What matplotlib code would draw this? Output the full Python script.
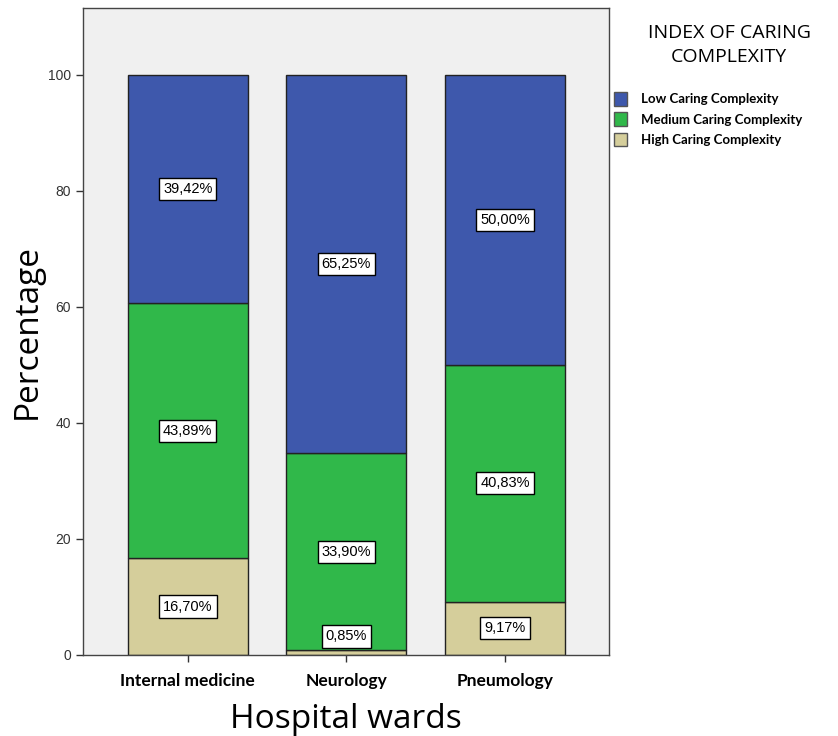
import matplotlib
matplotlib.use('Agg')
import numpy as np
from matplotlib import pyplot as plt
from matplotlib.patches import Patch

wards = ['Internal medicine', 'Neurology', 'Pneumology']
levels = ['Low Caring Complexity', 'Medium Caring Complexity', 'High Caring Complexity']
high_pct = [16.70, 0.85, 9.17]
medium_pct = [43.89, 33.90, 40.83]
low_pct = [39.42, 65.25, 50.00]

colors = {'low': '#3E58AC', 'medium': '#30B84A', 'high': '#D5CE9B'}

fig = plt.figure(figsize=(8.38, 7.36), dpi=100)
ax = fig.add_axes([83 / 838, 81 / 736, 526 / 838, 647 / 736])
ax.set_facecolor('#F0F0F0')

x = np.arange(len(wards))
width = 0.755
bottom = np.zeros(len(wards))
for vals, key in [(high_pct, 'high'), (medium_pct, 'medium'), (low_pct, 'low')]:
    vals = np.array(vals)
    ax.bar(x, vals, width, bottom=bottom, color=colors[key],
           edgecolor='#222222', linewidth=1.0, zorder=2)
    for xi, b, v in zip(x, bottom, vals):
        yc = max(b + v / 2, 3.2)
        ax.text(xi, yc, f'{v:.2f}%'.replace('.', ','), ha='center', va='center',
                fontsize=10.5, family='Liberation Sans', zorder=4,
                bbox=dict(boxstyle='square,pad=0.28', facecolor='white',
                          edgecolor='black', linewidth=1.0))
    bottom += vals

ax.set_xlim(-0.66, 2.655)
ax.set_ylim(0, 111.5)
ax.set_yticks([0, 20, 40, 60, 80, 100])
ax.set_yticklabels(['0', '20', '40', '60', '80', '100'], family='Liberation Sans',
                   fontsize=10, color='#333333')
ax.set_xticks(x)
ax.set_xticklabels(wards, family='Lato', fontweight='bold', fontsize=12.5)
ax.tick_params(axis='both', length=5, width=1, color='#333333')
ax.tick_params(axis='x', pad=8)
for s in ax.spines.values():
    s.set_color('#444444')
    s.set_linewidth(1.0)

ax.set_ylabel('Percentage', family='Open Sans', fontsize=24, labelpad=3)
ax.set_xlabel('Hospital wards', family='Open Sans', fontsize=24, labelpad=10)

handles = [Patch(facecolor=colors['low'], edgecolor='#555555'),
           Patch(facecolor=colors['medium'], edgecolor='#555555'),
           Patch(facecolor=colors['high'], edgecolor='#555555')]
fig.text(729 / 838, 1 - 45 / 736, 'INDEX OF CARING\nCOMPLEXITY', ha='center', va='center',
         family='Open Sans', fontsize=14, linespacing=1.45)
leg = fig.legend(handles, levels, loc='upper left', bbox_to_anchor=(609 / 838, 1 - 87 / 736),
                 frameon=False, handlelength=1.0, handleheight=1.2, handletextpad=1.0,
                 labelspacing=0.5, borderaxespad=0,
                 prop={'family': 'Lato', 'weight': 'bold', 'size': 9.5})

fig.savefig('out.png', dpi=100)
